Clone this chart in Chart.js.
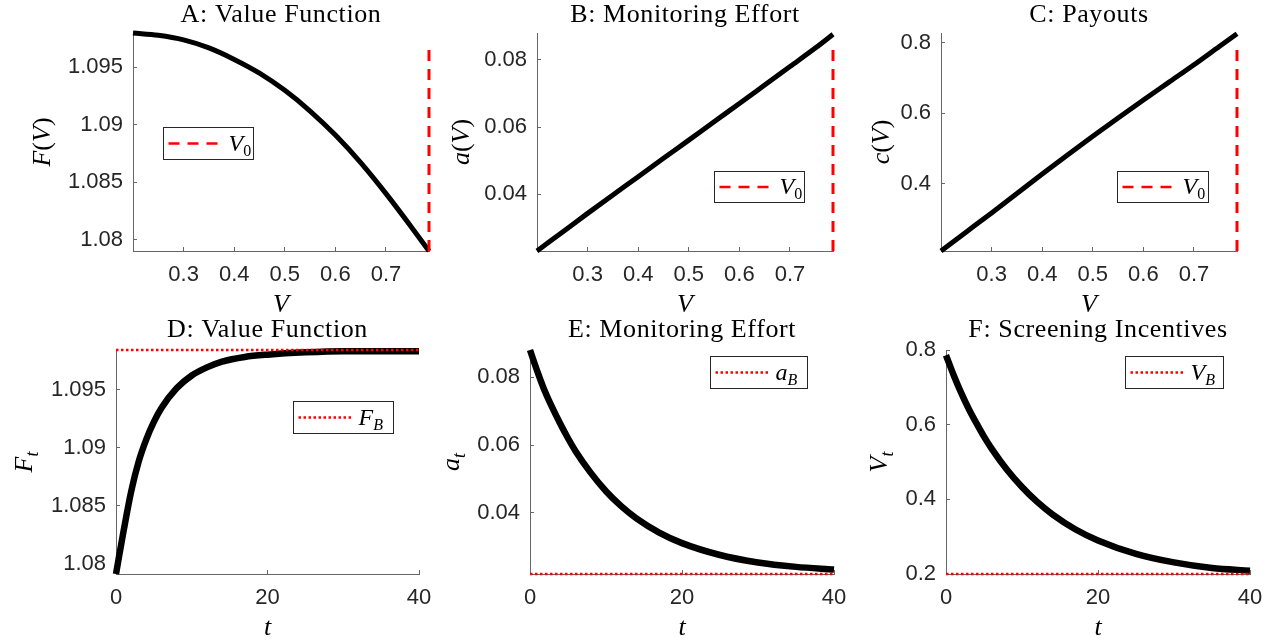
<!DOCTYPE html>
<html>
<head>
<meta charset="utf-8">
<script src="https://cdn.jsdelivr.net/npm/chart.js@4.4.0/dist/chart.umd.min.js"></script>
<style>
  html, body { margin: 0; padding: 0; background: #fff; }
  #page { position: relative; width: 1280px; height: 642px; overflow: hidden; background: #fff; }
  #page canvas { position: absolute; }
</style>
</head>
<body>
<div id="page"></div>
<script>
/* ---- top row: policy functions over continuation value V ---- */
const V_GRID = [0.2, 0.25, 0.3, 0.35, 0.4, 0.45, 0.5, 0.55, 0.6, 0.65, 0.7, 0.75, 0.785];
const F_OF_V = [1.0980, 1.0978, 1.0974, 1.0967, 1.0957, 1.0945, 1.0930, 1.0912, 1.0891, 1.0867, 1.0840, 1.0811, 1.0790];
const A_OF_V = [0.0231, 0.0287, 0.0343, 0.0398, 0.0452, 0.0507, 0.0561, 0.0616, 0.0670, 0.0725, 0.0780, 0.0835, 0.0876];
const C_OF_V = [0.210, 0.264, 0.318, 0.373, 0.428, 0.482, 0.535, 0.587, 0.638, 0.688, 0.738, 0.790, 0.826];
const V_0 = 0.785;
const V0_LINE_TOP = [1.0971, 0.0851, 0.801];   // upper end of the V0 marker in A, B, C

/* ---- bottom row: dynamics over time t ---- */
const T_GRID = [0, 1, 2, 3, 4, 5, 6, 8, 10, 12, 14, 17, 20, 25, 30, 35, 40];
const F_T = [1.0791, 1.0828, 1.0862, 1.0888, 1.0907, 1.0922, 1.0934, 1.0951, 1.0962, 1.0969, 1.0974, 1.0978, 1.0980, 1.0982, 1.0983, 1.0983, 1.0983];
const A_T = [0.0880, 0.0815, 0.0756, 0.0707, 0.0662, 0.0620, 0.0582, 0.0518, 0.0464, 0.0420, 0.0384, 0.0342, 0.0311, 0.0276, 0.0254, 0.0241, 0.0233];
const V_T = [0.786, 0.733, 0.685, 0.642, 0.604, 0.568, 0.536, 0.480, 0.433, 0.393, 0.360, 0.320, 0.290, 0.254, 0.231, 0.216, 0.209];
const F_B = 1.0984;
const A_B = 0.022;
const V_B = 0.2;

/* ---- tick labels ---- */
const V_TICKS = [0.3, 0.4, 0.5, 0.6, 0.7];
const T_TICKS = [0, 20, 40];
const F_TICKS = [1.08, 1.085, 1.09, 1.095];
const A_TICKS = [0.04, 0.06, 0.08];
const C_TICKS = [0.4, 0.6, 0.8];
const VT_TICKS = [0.2, 0.4, 0.6, 0.8];

const RED = '#ff0000';
const AXIS = '#666666';
const TICK_TEXT = '#262626';
const SERIF = '"Liberation Serif", "Times New Roman", serif';
const SANS = '"Liberation Sans", Arial, sans-serif';

// margins around each plot area inside its canvas
const M = { left: 130, top: 40, right: 30, bottom: 75 };

const pts = (xs, ys) => xs.map((x, i) => ({ x, y: ys[i] }));

/* math-style text runs: [text, kind]  kind: i italic, r roman, si/sr subscript */
function runFont(kind, size) {
  const sub = kind[0] === 's';
  const s = sub ? Math.round(size * 0.68) : size;
  return (kind.endsWith('i') ? 'italic ' : '') + s + 'px ' + SERIF;
}
function runsWidth(ctx, runs, size) {
  let w = 0;
  runs.forEach(([t, k]) => { ctx.font = runFont(k, size); w += ctx.measureText(t).width; });
  return w;
}
function drawRuns(ctx, runs, x, y, size) {
  runs.forEach(([t, k]) => {
    ctx.font = runFont(k, size);
    ctx.fillText(t, x, y + (k[0] === 's' ? size * 0.22 : 0));
    x += ctx.measureText(t).width;
  });
}

/* titles, axis names and the boxed legend */
const decor = {
  id: 'decor',
  afterDraw(chart, args, o) {
    const { ctx, chartArea: ca } = chart;
    const cx = (ca.left + ca.right) / 2;
    const cy = (ca.top + ca.bottom) / 2;
    ctx.save();
    ctx.fillStyle = '#000';
    ctx.textAlign = 'left';
    ctx.textBaseline = 'alphabetic';

    ctx.font = '26px ' + SERIF;
    ctx.letterSpacing = '0.6px';
    ctx.textAlign = 'center';
    ctx.fillText(o.title, cx, ca.top - o.titleGap);
    ctx.letterSpacing = '0px';
    ctx.textAlign = 'left';

    // x axis name
    const xw = runsWidth(ctx, o.xLabel, 26);
    drawRuns(ctx, o.xLabel, cx - xw / 2, ca.bottom + 61, 26);

    // y axis name, rotated
    const yw = runsWidth(ctx, o.yLabel, 26);
    ctx.save();
    ctx.translate(ca.left - o.yGap, cy);
    ctx.rotate(-Math.PI / 2);
    drawRuns(ctx, o.yLabel, -yw / 2, 0, 26);
    ctx.restore();

    // legend box
    const lg = o.legend;
    const bx = Math.round(ca.left + lg.dx) + 0.5;
    const by = Math.round(ca.top + lg.dy) + 0.5;
    ctx.fillStyle = '#fff';
    ctx.fillRect(bx, by, lg.w, lg.h);
    ctx.strokeStyle = '#262626';
    ctx.lineWidth = 1;
    ctx.strokeRect(bx, by, lg.w, lg.h);
    const my = by + lg.h / 2;
    ctx.strokeStyle = RED;
    ctx.lineWidth = 2.5;
    ctx.setLineDash(lg.dash);
    ctx.beginPath();
    ctx.moveTo(bx + 5, my);
    ctx.lineTo(bx + 60, my);
    ctx.stroke();
    ctx.setLineDash([]);
    ctx.fillStyle = '#000';
    drawRuns(ctx, lg.label, bx + 65, my + 7, 24);
    ctx.restore();
  }
};

function axisOpts(range, ticks, extra) {
  return Object.assign({
    type: 'linear',
    min: range[0],
    max: range[1],
    afterBuildTicks: (s) => { s.ticks = ticks.map(value => ({ value })); },
    border: { display: true, color: AXIS, width: 1 },
    grid: { drawOnChartArea: false, drawTicks: true, tickLength: -4, color: AXIS, lineWidth: 1 },
    ticks: {
      color: TICK_TEXT,
      font: { family: SANS, size: 22 },
      autoSkip: false,
      maxRotation: 0,
      callback: (v) => String(+Number(v).toFixed(4))
    }
  }, extra);
}

function makePanel(p) {
  const { l, t, r, b } = p.box;
  const canvas = document.createElement('canvas');
  const w = (r - l) + M.left + M.right;
  const h = (b - t) + M.top + M.bottom;
  canvas.width = w;
  canvas.height = h;
  canvas.style.left = (l - M.left) + 'px';
  canvas.style.top = (t - M.top) + 'px';
  canvas.style.width = w + 'px';
  canvas.style.height = h + 'px';
  document.getElementById('page').appendChild(canvas);

  const x = axisOpts(p.xRange, p.xTicks, { position: 'bottom', afterFit: (s) => { s.height = M.bottom; } });
  x.ticks.padding = 15;
  const y = axisOpts(p.yRange, p.yTicks, { position: 'left', afterFit: (s) => { s.width = M.left; } });
  y.ticks.padding = 14;

  new Chart(canvas, {
    type: 'line',
    data: {
      datasets: [
        {
          data: p.marker,
          borderColor: RED,
          borderWidth: p.markerDash[0] > 5 ? 3 : 2.5,
          borderDash: p.markerDash,
          pointRadius: 0,
          fill: false,
          clip: 10
        },
        {
          data: p.curve,
          borderColor: '#000',
          borderWidth: p.lineWidth,
          pointRadius: 0,
          cubicInterpolationMode: 'monotone',
          fill: false,
          clip: 10
        }
      ]
    },
    options: {
      responsive: false,
      devicePixelRatio: 1,
      animation: false,
      layout: { padding: { left: 0, top: M.top, right: M.right, bottom: 0 } },
      plugins: {
        legend: { display: false },
        tooltip: { enabled: false },
        decor: p.decor
      },
      scales: { x, y }
    },
    plugins: [decor]
  });
}

const DASH = [11, 8];
const DOT = [2.5, 2.5];

const PANELS = [
  {
    box: { l: 133, t: 33, r: 429, b: 251 },
    xRange: [0.2, V_0], xTicks: V_TICKS,
    yRange: [1.0790, 1.0980], yTicks: F_TICKS,
    curve: pts(V_GRID, F_OF_V), lineWidth: 5,
    marker: [{ x: V_0, y: 1.0790 }, { x: V_0, y: V0_LINE_TOP[0] }], markerDash: DASH,
    decor: {
      title: 'A: Value Function', titleGap: 11,
      xLabel: [['V', 'i']], yLabel: [['F', 'i'], ['(', 'r'], ['V', 'i'], [')', 'r']], yGap: 83,
      legend: { dx: 30, dy: 94, w: 90, h: 32, dash: DASH, label: [['V', 'i'], ['0', 'sr']] }
    }
  },
  {
    box: { l: 537, t: 33, r: 833, b: 251 },
    xRange: [0.2, V_0], xTicks: V_TICKS,
    yRange: [0.0231, 0.0880], yTicks: A_TICKS,
    curve: pts(V_GRID, A_OF_V), lineWidth: 5,
    marker: [{ x: V_0, y: 0.0231 }, { x: V_0, y: V0_LINE_TOP[1] }], markerDash: DASH,
    decor: {
      title: 'B: Monitoring Effort', titleGap: 11,
      xLabel: [['V', 'i']], yLabel: [['a', 'i'], ['(', 'r'], ['V', 'i'], [')', 'r']], yGap: 68,
      legend: { dx: 177, dy: 138, w: 90, h: 31, dash: DASH, label: [['V', 'i'], ['0', 'sr']] }
    }
  },
  {
    box: { l: 941, t: 33, r: 1237, b: 251 },
    xRange: [0.2, V_0], xTicks: V_TICKS,
    yRange: [0.210, 0.828], yTicks: C_TICKS,
    curve: pts(V_GRID, C_OF_V), lineWidth: 5,
    marker: [{ x: V_0, y: 0.210 }, { x: V_0, y: V0_LINE_TOP[2] }], markerDash: DASH,
    decor: {
      title: 'C: Payouts', titleGap: 11,
      xLabel: [['V', 'i']], yLabel: [['c', 'i'], ['(', 'r'], ['V', 'i'], [')', 'r']], yGap: 52,
      legend: { dx: 176, dy: 138, w: 91, h: 31, dash: DASH, label: [['V', 'i'], ['0', 'sr']] }
    }
  },
  {
    box: { l: 116, t: 350, r: 419, b: 574 },
    xRange: [0, 40], xTicks: T_TICKS,
    yRange: [1.0791, 1.0984], yTicks: F_TICKS,
    curve: pts(T_GRID, F_T), lineWidth: 6.5,
    marker: [{ x: T_GRID[0], y: F_B }, { x: T_GRID[T_GRID.length - 1], y: F_B }], markerDash: DOT,
    decor: {
      title: 'D: Value Function', titleGap: 13,
      xLabel: [['t', 'i']], yLabel: [['F', 'i'], ['t', 'si']], yGap: 84,
      legend: { dx: 177, dy: 51, w: 100, h: 32, dash: DOT, label: [['F', 'i'], ['B', 'si']] }
    }
  },
  {
    box: { l: 530, t: 350, r: 834, b: 574 },
    xRange: [0, 40], xTicks: T_TICKS,
    yRange: [0.022, 0.088], yTicks: A_TICKS,
    curve: pts(T_GRID, A_T), lineWidth: 6.5,
    marker: [{ x: T_GRID[0], y: A_B }, { x: T_GRID[T_GRID.length - 1], y: A_B }], markerDash: DOT,
    decor: {
      title: 'E: Monitoring Effort', titleGap: 13,
      xLabel: [['t', 'i']], yLabel: [['a', 'i'], ['t', 'si']], yGap: 71,
      legend: { dx: 180, dy: 6, w: 97, h: 32, dash: DOT, label: [['a', 'i'], ['B', 'si']] }
    }
  },
  {
    box: { l: 946, t: 350, r: 1250, b: 574 },
    xRange: [0, 40], xTicks: T_TICKS,
    yRange: [0.2, 0.8], yTicks: VT_TICKS,
    curve: pts(T_GRID, V_T), lineWidth: 6.5,
    marker: [{ x: T_GRID[0], y: V_B }, { x: T_GRID[T_GRID.length - 1], y: V_B }], markerDash: DOT,
    decor: {
      title: 'F: Screening Incentives', titleGap: 13,
      xLabel: [['t', 'i']], yLabel: [['V', 'i'], ['t', 'si']], yGap: 59,
      legend: { dx: 179, dy: 6, w: 98, h: 32, dash: DOT, label: [['V', 'i'], ['B', 'si']] }
    }
  }
];

PANELS.forEach(makePanel);
</script>
</body>
</html>
